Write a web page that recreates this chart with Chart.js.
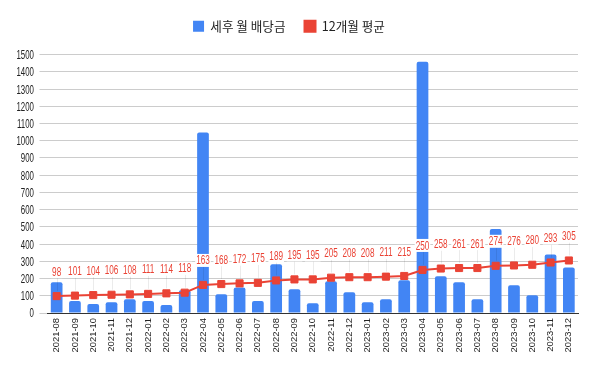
<!DOCTYPE html>
<html>
<head>
<meta charset="utf-8">
<script src="https://cdn.jsdelivr.net/npm/chart.js@4"></script>
<style>
  body { margin: 0; background: #fff; }
  #wrap { width: 600px; height: 371px; }
</style>
</head>
<body>
<div id="wrap"><canvas id="chart" width="600" height="371"></canvas></div>
<script>
// data
const months = ["2021-08", "2021-09", "2021-10", "2021-11", "2021-12",
    "2022-01", "2022-02", "2022-03", "2022-04", "2022-05", "2022-06", "2022-07",
    "2022-08", "2022-09", "2022-10", "2022-11", "2022-12",
    "2023-01", "2023-02", "2023-03", "2023-04", "2023-05", "2023-06", "2023-07",
    "2023-08", "2023-09", "2023-10", "2023-11", "2023-12"];
const dividends = [178, 69, 52, 63, 80, 69, 46, 132, 1048, 109, 148, 69,
    283, 138, 57, 184, 121, 63, 80, 190, 1458, 213, 178, 80,
    487, 161, 103, 339, 264];
const avg12 = [98, 101, 104, 106, 108, 111, 114, 118, 163, 168, 172, 175,
    189, 195, 195, 205, 208, 208, 211, 215, 250, 258, 261, 261,
    274, 276, 280, 293, 305];
const yMax = 1500;
const yMajor = 100;

const sans = "'Liberation Sans', Arial, sans-serif";
const blue = '#4285F4';
const red = '#EA4335';

// squeezed text, there is no narrow font here
function narrowText(ctx, txt, x, y, size, squeeze, align) {
    ctx.save();
    ctx.font = size + 'px ' + sans;
    ctx.textAlign = align;
    ctx.textBaseline = 'middle';
    ctx.translate(x, y);
    ctx.scale(squeeze, 1);
    ctx.fillText(txt, 0, 0);
    ctx.restore();
}

const customText = {
    id: 'customText',
    afterInit(chart) {
        // more room under the legend
        const fit = chart.legend.fit;
        chart.legend.fit = function () {
            fit.call(this);
            this.height += 12;
        };
    },
    afterDraw(chart) {
        const ctx = chart.ctx;
        // y tick labels
        const y = chart.scales.y;
        ctx.fillStyle = '#222';
        y.ticks.forEach(t => {
            if (t.value % yMajor !== 0) return;
            narrowText(ctx, String(t.value), 34, y.getPixelForValue(t.value) + 1, 12.5, 0.63, 'right');
        });
        // value labels above the line points
        const meta = chart.getDatasetMeta(1);
        ctx.save();
        ctx.font = '13px ' + sans;
        meta.data.forEach((pt, i) => {
            const txt = String(avg12[i]);
            const w = ctx.measureText(txt).width * 0.63;
            const ly = pt.y - 24;
            ctx.strokeStyle = 'rgba(0,0,0,0.08)';
            ctx.lineWidth = 1;
            ctx.beginPath();
            ctx.moveTo(Math.round(pt.x) + 0.5, ly + 6);
            ctx.lineTo(Math.round(pt.x) + 0.5, pt.y - 5);
            ctx.stroke();
            ctx.fillStyle = '#fff';
            ctx.fillRect(pt.x - w / 2 - 1, ly - 7, w + 2, 13);
            ctx.fillStyle = red;
            narrowText(ctx, txt, pt.x, ly, 13, 0.63, 'center');
        });
        ctx.restore();
    }
};

new Chart(document.getElementById('chart'), {
    type: 'bar',
    data: {
        labels: months,
        datasets: [{
            label: '세후 월 배당금',
            data: dividends,
            backgroundColor: blue,
            borderRadius: 2,
            borderSkipped: 'bottom',
            barPercentage: 0.64,
            categoryPercentage: 1,
            order: 1
        }, {
            type: 'line',
            label: '12개월 평균',
            data: avg12,
            borderColor: red,
            backgroundColor: red,
            borderWidth: 2,
            pointStyle: 'rect',
            pointRadius: 5,
            pointBorderWidth: 1,
            tension: 0,
            order: 0
        }]
    },
    options: {
        responsive: false,
        animation: false,
        layout: { padding: { top: 1, right: 22, bottom: 8, left: 0 } },
        plugins: {
            legend: {
                position: 'top',
                labels: {
                    boxWidth: 11,
                    boxHeight: 11,
                    padding: 19,
                    color: '#222',
                    sort: (a, b) => a.datasetIndex - b.datasetIndex,
                    font: { family: "'Noto Sans CJK KR', sans-serif", size: 12.6 }
                }
            },
            tooltip: { enabled: false }
        },
        scales: {
            x: {
                offset: true,
                afterFit(scale) { scale.height = 50; },
                grid: { display: false, drawTicks: false },
                border: { color: '#333', width: 1 },
                ticks: {
                    color: '#222',
                    minRotation: 90,
                    maxRotation: 90,
                    autoSkip: false,
                    padding: 5,
                    font: { family: sans, size: 9.4 }
                }
            },
            y: {
                min: 0,
                max: yMax,
                afterFit(scale) { scale.width = 47.5; },
                border: { display: false },
                grid: {
                    tickLength: 8,
                    color: c => (c.tick.value % yMajor === 0 ? '#cccccc' : '#ebebeb')
                },
                ticks: {
                    stepSize: yMajor / 2,
                    color: 'rgba(0,0,0,0)',
                    font: { family: sans, size: 11 }
                }
            }
        }
    },
    plugins: [customText]
});
</script>
</body>
</html>
